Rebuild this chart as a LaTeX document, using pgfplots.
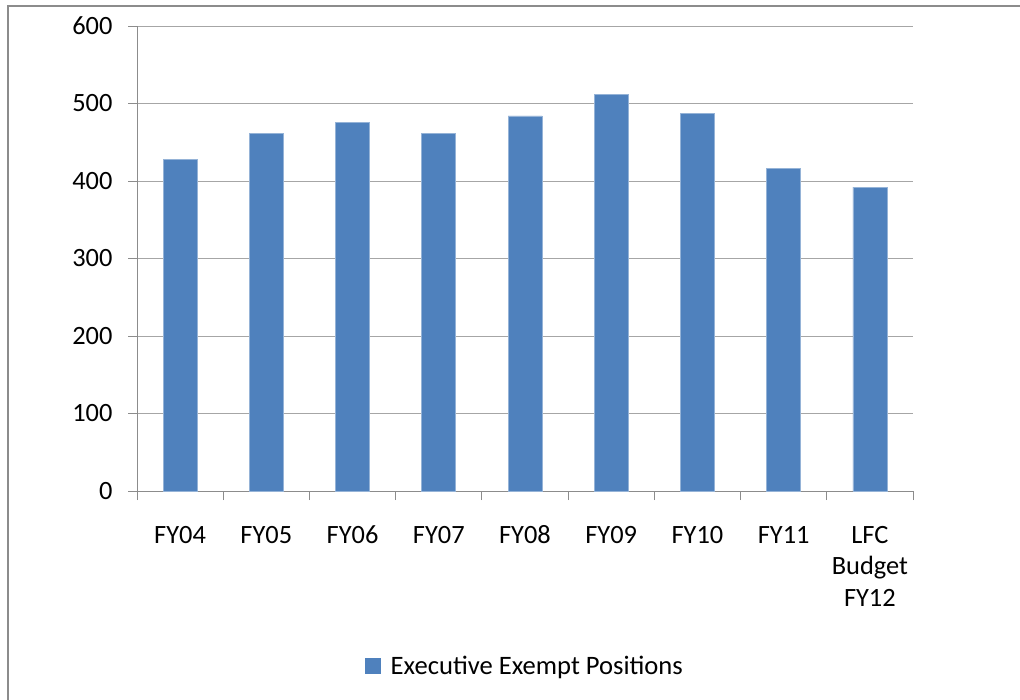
\documentclass[border=0pt]{standalone}
\usepackage{fontspec}
\setmainfont{Carlito}
\usepackage{pgfplots}
\pgfplotsset{compat=1.18}
\definecolor{barblue}{HTML}{4F81BD}
\definecolor{gridgray}{HTML}{A6A6A6}
\definecolor{axgray}{HTML}{8C8C8C}
\begin{document}
\begin{tikzpicture}
\path[use as bounding box] (0bp,0bp) rectangle (1020bp,-700bp);
\draw[axgray, line width=1.6bp] (8bp,-700bp) -- (8bp,-6bp) -- (1020bp,-6bp);
\begin{axis}[
  at={(137bp,-491bp)}, anchor=south west,
  scale only axis, width=776bp, height=465bp,
  xmin=-0.5, xmax=8.5, ymin=0, ymax=600,
  ytick={0,100,...,600},
  ymajorgrids, grid style={gridgray, line width=1bp},
  axis x line*=bottom, axis y line*=left,
  axis line style={axgray, line width=1bp, -},
  xtick={0,...,8},
  xticklabels={\strut FY04,\strut FY05,\strut FY06,\strut FY07,\strut FY08,\strut FY09,\strut FY10,\strut FY11,{\strut LFC\\Budget\\FY12}},
  xticklabel style={align=center, font=\fontsize{26.5}{31.5}\selectfont, yshift=-18bp},
  yticklabel style={font=\fontsize{26.5}{31.5}\selectfont, xshift=-12bp},
  /pgf/number format/assume math mode=true,
  major x tick style={draw=none},
  minor xtick={-0.5,0.5,...,8.5},
  tick align=outside,
  major tick length=9bp, minor tick length=9bp,
  every tick/.style={axgray, line width=1bp},
  ybar, bar width=34bp,
  legend style={at={(0.5,-0.376)}, anchor=center, draw=none,
    font=\fontsize{26.7}{31.5}\selectfont, legend cell align=left},
  legend image code/.code={\fill[barblue] (-4bp,-7.5bp) rectangle (11bp,7.5bp); \path (19bp,0bp);},
]
\addplot[fill=barblue, draw=barblue!60!white, line width=0.6bp] coordinates {
(0,428) (1,461) (2,476) (3,461) (4,484) (5,512) (6,487) (7,416) (8,392)};
\addlegendentry{Executive Exempt Positions}
\end{axis}
\end{tikzpicture}
\end{document}
